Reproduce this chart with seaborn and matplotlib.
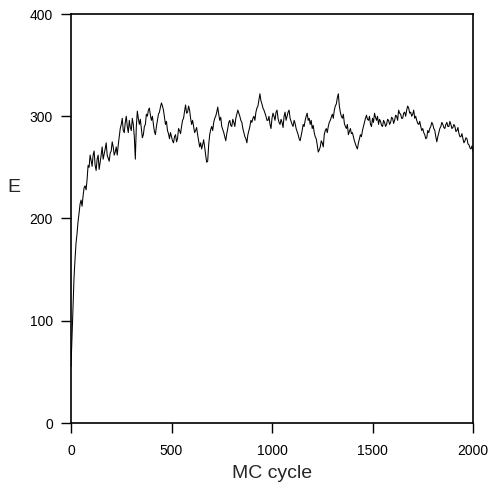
import matplotlib
matplotlib.use("Agg")
import matplotlib.pyplot as plt
import seaborn as sns
import pandas as pd

# MC cycle (x) sampled every 5 cycles
cycles = list(range(0, 2001, 5))

# Energy E
energy = [
    55, 85, 115, 142, 160, 176, 185, 197, 205, 214, 218, 212, 222, 230, 232, 228, 238, 252, 250, 262, 257,
    251, 262, 266, 252, 247, 258, 262, 248, 255, 262, 270, 258, 263, 268, 274, 262, 259, 256, 264, 266,
    275, 270, 262, 265, 270, 262, 272, 280, 288, 292, 298, 286, 284, 294, 300, 290, 284, 296, 289, 286,
    298, 292, 280, 258, 290, 305, 298, 292, 297, 288, 279, 282, 290, 292, 302, 300, 306, 308, 301, 296,
    300, 292, 285, 282, 290, 296, 302, 304, 309, 313, 310, 306, 299, 292, 295, 286, 283, 278, 284, 280,
    276, 274, 280, 282, 275, 278, 288, 286, 283, 290, 296, 298, 305, 311, 303, 304, 310, 306, 298, 292,
    296, 290, 284, 286, 289, 282, 276, 270, 274, 268, 272, 277, 270, 262, 255, 256, 272, 282, 287, 290,
    286, 294, 298, 300, 304, 309, 302, 296, 299, 290, 287, 284, 280, 276, 283, 288, 294, 296, 291, 290,
    297, 294, 290, 298, 302, 306, 303, 300, 296, 294, 288, 284, 280, 278, 274, 282, 286, 290, 296, 294,
    298, 300, 296, 304, 308, 310, 316, 322, 315, 312, 308, 306, 303, 300, 296, 296, 300, 292, 288, 298,
    303, 300, 296, 304, 306, 298, 294, 292, 297, 294, 289, 300, 304, 296, 300, 304, 306, 298, 295, 292,
    290, 296, 293, 288, 285, 282, 278, 276, 281, 286, 292, 290, 296, 300, 303, 296, 298, 292, 296, 288,
    291, 284, 280, 278, 272, 265, 267, 270, 276, 274, 270, 282, 286, 288, 284, 290, 294, 296, 299, 302,
    298, 306, 310, 312, 318, 322, 310, 304, 300, 298, 302, 293, 290, 288, 292, 282, 285, 288, 283, 284,
    280, 276, 273, 270, 268, 274, 278, 282, 280, 286, 290, 294, 298, 301, 297, 296, 300, 292, 290, 298,
    294, 303, 299, 296, 300, 292, 297, 295, 291, 290, 296, 294, 290, 292, 297, 296, 292, 294, 299, 298,
    293, 296, 301, 300, 296, 306, 303, 302, 298, 298, 303, 304, 300, 306, 310, 308, 303, 304, 300, 302,
    306, 298, 300, 296, 293, 292, 295, 290, 286, 288, 284, 282, 278, 279, 286, 284, 288, 290, 294, 292,
    288, 286, 280, 275, 280, 284, 288, 290, 294, 292, 289, 288, 292, 294, 290, 290, 295, 292, 288, 289,
    292, 290, 285, 286, 289, 283, 280, 280, 283, 278, 274, 276, 279, 278, 273, 272, 269, 268, 271, 266,
]

x_ticks = [0, 500, 1000, 1500, 2000]
y_ticks = [0, 100, 200, 300, 400]

df = pd.DataFrame({"MC cycle": cycles, "E": energy})

sns.set_style("white")
plt.rcParams["font.family"] = ["Liberation Sans", "DejaVu Sans"]

fig = plt.figure(figsize=(4.91, 4.94), dpi=100)
ax = fig.add_axes([71 / 491, 1 - 423 / 494, 402 / 491, 409 / 494])

sns.lineplot(data=df, x="MC cycle", y="E", ax=ax, color="black", linewidth=0.75)

ax.set_xlim(0, 2000)
ax.set_ylim(0, 400)
ax.set_xticks(x_ticks)
ax.set_yticks(y_ticks)
ax.tick_params(axis="both", direction="out", length=7, width=1, colors="black",
               labelsize=10)
ax.tick_params(axis="y", pad=6)
ax.tick_params(axis="x", pad=8)
ax.tick_params(left=True, bottom=True, top=False, right=False)

for s in ax.spines.values():
    s.set_visible(True)
    s.set_color("black")
    s.set_linewidth(1.2)

ax.set_xlabel("MC cycle", fontsize=14, labelpad=5)
ax.set_ylabel("E", fontsize=14, rotation=0, ha="center", va="center")
ax.yaxis.set_label_coords((14 - 71) / 402, (423 - 187) / 409)

fig.savefig("out.png", dpi=100)
